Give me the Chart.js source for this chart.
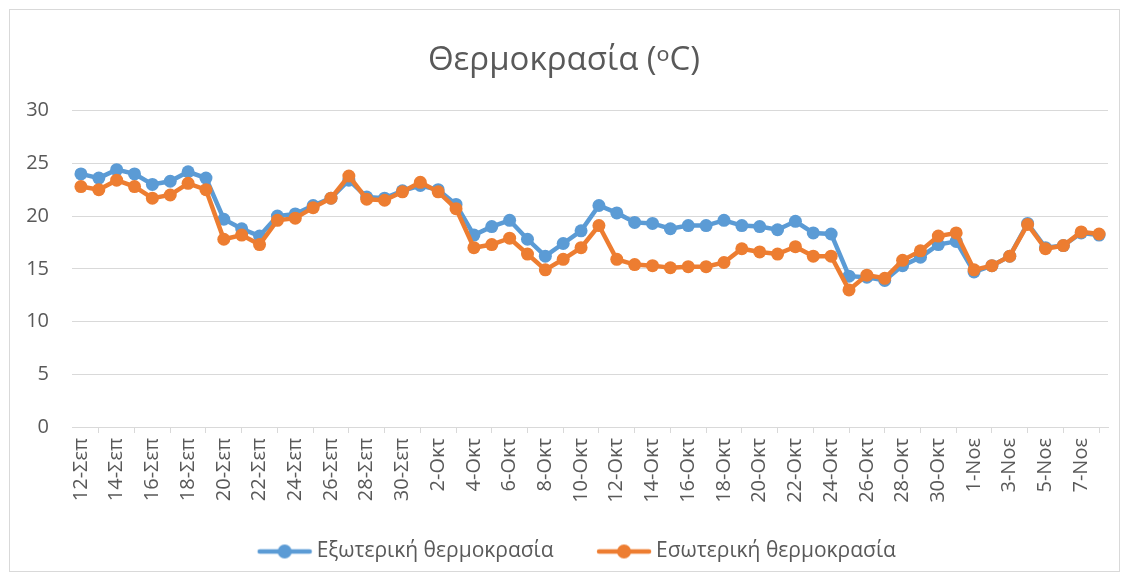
<!DOCTYPE html>
<html>
<head>
<meta charset="utf-8">
<script src="https://cdn.jsdelivr.net/npm/chart.js@4.4.1/dist/chart.umd.min.js"></script>
<style>
  html, body { margin: 0; padding: 0; background: #fff; }
  #wrap { width: 1128px; height: 580px; position: relative; }
</style>
</head>
<body>
<div id="wrap"><canvas id="tempChart"></canvas></div>
<script>
// ημερομηνίες 12 Σεπ - 8 Νοε
const days = [
  "12-Σεπ","13-Σεπ","14-Σεπ","15-Σεπ","16-Σεπ","17-Σεπ","18-Σεπ","19-Σεπ","20-Σεπ","21-Σεπ",
  "22-Σεπ","23-Σεπ","24-Σεπ","25-Σεπ","26-Σεπ","27-Σεπ","28-Σεπ","29-Σεπ","30-Σεπ",
  "1-Οκτ","2-Οκτ","3-Οκτ","4-Οκτ","5-Οκτ","6-Οκτ","7-Οκτ","8-Οκτ","9-Οκτ","10-Οκτ",
  "11-Οκτ","12-Οκτ","13-Οκτ","14-Οκτ","15-Οκτ","16-Οκτ","17-Οκτ","18-Οκτ","19-Οκτ","20-Οκτ",
  "21-Οκτ","22-Οκτ","23-Οκτ","24-Οκτ","25-Οκτ","26-Οκτ","27-Οκτ","28-Οκτ","29-Οκτ","30-Οκτ",
  "31-Οκτ","1-Νοε","2-Νοε","3-Νοε","4-Νοε","5-Νοε","6-Νοε","7-Νοε","8-Νοε"
];

const outside = [
  24.0, 23.6, 24.4, 24.0, 23.0, 23.3, 24.2, 23.6, 19.7, 18.8,
  18.1, 20.0, 20.2, 21.0, 21.7, 23.4, 21.8, 21.7, 22.4, 22.9,
  22.5, 21.1, 18.2, 19.0, 19.6, 17.8, 16.2, 17.4, 18.6, 21.0,
  20.3, 19.4, 19.3, 18.8, 19.1, 19.1, 19.6, 19.1, 19.0, 18.7,
  19.5, 18.4, 18.3, 14.3, 14.2, 13.9, 15.3, 16.1, 17.3, 17.6,
  14.7, 15.3, 16.2, 19.3, 17.0, 17.2, 18.4, 18.2
];

const inside = [
  22.8, 22.5, 23.4, 22.8, 21.7, 22.0, 23.1, 22.5, 17.8, 18.2,
  17.3, 19.6, 19.8, 20.8, 21.7, 23.8, 21.6, 21.5, 22.3, 23.2,
  22.3, 20.7, 17.0, 17.3, 17.9, 16.4, 14.9, 15.9, 17.0, 19.1,
  15.9, 15.4, 15.3, 15.1, 15.2, 15.2, 15.6, 16.9, 16.6, 16.4,
  17.1, 16.2, 16.2, 13.0, 14.4, 14.1, 15.8, 16.7, 18.1, 18.4,
  14.9, 15.3, 16.2, 19.2, 16.9, 17.2, 18.5, 18.3
];

const yTicks = [0, 5, 10, 15, 20, 25, 30];

const BLUE = "#5B9BD5";
const ORANGE = "#ED7D31";
const TEXT = "#595959";
const GRID = "#D9D9D9";
const FONT = "'Open Sans', 'Noto Sans', sans-serif";

// εικονίδιο υπομνήματος: γραμμή με κύκλο, με κενό αριστερά για την απόσταση
const BOX_W = 74;
function legendIcon(color) {
  const c = document.createElement("canvas");
  c.width = BOX_W + 13; c.height = 18;
  const g = c.getContext("2d");
  const x1 = c.width - 55, x2 = c.width - 1;
  g.strokeStyle = color;
  g.lineWidth = 4.5;
  g.lineCap = "round";
  g.beginPath(); g.moveTo(x1 + 2, 9); g.lineTo(x2 - 2, 9); g.stroke();
  g.fillStyle = color;
  g.beginPath(); g.arc((x1 + x2) / 2, 9, 7, 0, Math.PI * 2); g.fill();
  return c;
}

const frame = {
  id: "frame",
  beforeDraw(chart) {
    const ctx = chart.ctx;
    ctx.save();
    ctx.fillStyle = "#fff";
    ctx.fillRect(0, 0, chart.width, chart.height);
    ctx.strokeStyle = GRID;
    ctx.lineWidth = 1;
    ctx.strokeRect(9.5, 9.5, 1110, 562);
    ctx.restore();
  }
};

new Chart(document.getElementById("tempChart"), {
  type: "line",
  data: {
    labels: days,
    datasets: [
      {
        label: "Εξωτερική θερμοκρασία",
        data: outside,
        borderColor: BLUE,
        backgroundColor: BLUE,
        borderWidth: 4.5,
        pointStyle: "circle",
        pointRadius: 6.5,
        pointHoverRadius: 6.5,
        pointBorderWidth: 0,
        tension: 0,
        order: 1
      },
      {
        label: "Εσωτερική θερμοκρασία",
        data: inside,
        borderColor: ORANGE,
        backgroundColor: ORANGE,
        borderWidth: 4.5,
        pointStyle: "circle",
        pointRadius: 6.5,
        pointHoverRadius: 6.5,
        pointBorderWidth: 0,
        tension: 0,
        order: 0
      }
    ]
  },
  options: {
    responsive: true,
    maintainAspectRatio: false,
    animation: false,
    layout: { padding: { left: 20, right: 20, top: 10, bottom: 8 } },
    plugins: {
      title: {
        display: true,
        text: "Θερμοκρασία (ᵒC)",
        color: TEXT,
        font: { family: FONT, size: 33, weight: "normal" },
        padding: { top: 31, bottom: 30 }
      },
      legend: {
        position: "bottom",
        labels: {
          color: TEXT,
          font: { family: FONT, size: 21 },
          usePointStyle: true,
          pointStyleWidth: BOX_W,
          padding: 18,
          sort: (a, b) => a.datasetIndex - b.datasetIndex,
          generateLabels(chart) {
            return chart.data.datasets.map((ds, i) => ({
              text: ds.label,
              fillStyle: ds.borderColor,
              strokeStyle: ds.borderColor,
              pointStyle: legendIcon(ds.borderColor),
              datasetIndex: i,
              fontColor: TEXT,
              lineWidth: 0
            }));
          }
        }
      },
      tooltip: { enabled: false }
    },
    scales: {
      x: {
        offset: true,
        afterFit(scale) { scale.height = 96; },
        grid: {
          display: true,
          offset: true,
          drawOnChartArea: false,
          color: GRID,
          tickLength: 6
        },
        border: { color: GRID },
        ticks: {
          autoSkip: false,
          minRotation: 90,
          maxRotation: 90,
          color: TEXT,
          font: { family: FONT, size: 20 },
          padding: 5,
          callback(v, i) { return i % 2 === 0 ? days[i] : null; }
        }
      },
      y: {
        min: 0,
        max: 30,
        afterBuildTicks(scale) { scale.ticks = yTicks.map(v => ({ value: v })); },
        afterFit(scale) { scale.width = 52; },
        grid: { color: GRID, drawTicks: false },
        border: { display: false },
        ticks: {
          color: TEXT,
          font: { family: FONT, size: 20 },
          padding: 23
        }
      }
    }
  },
  plugins: [frame]
});
</script>
</body>
</html>
